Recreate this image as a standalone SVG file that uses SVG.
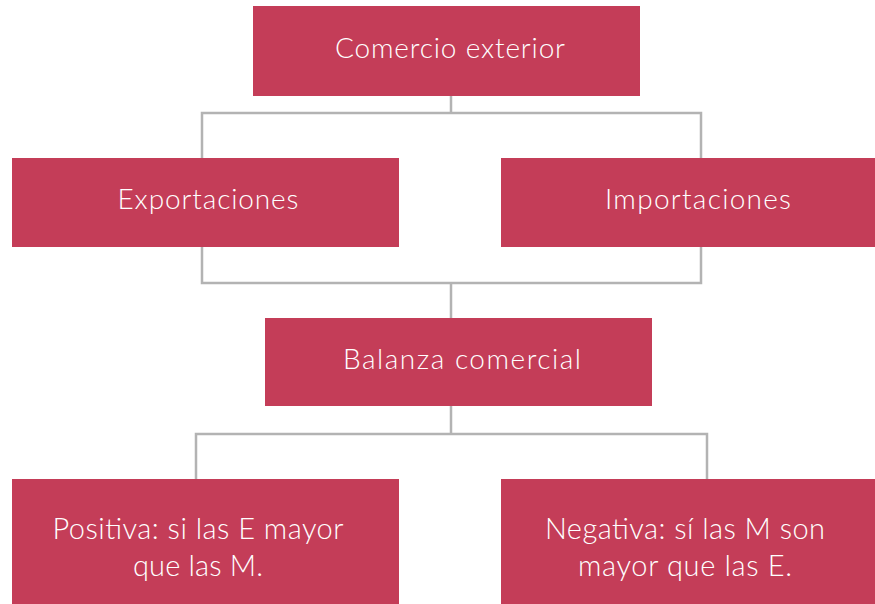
<svg xmlns="http://www.w3.org/2000/svg" width="875" height="604" viewBox="0 0 875 604">
<style>
.box{fill:#C43D58}
.t{fill:#ffffff;font-family:"Lato","Open Sans",sans-serif;font-weight:300;font-size:28px;text-anchor:middle}
.b{font-size:29px}
.c{fill:none;stroke:#b3b3b3;stroke-width:2.5}
</style>
<rect width="875" height="604" fill="#ffffff"/>
<g id="connectors">
<path class="c" d="M451 96V113M202 158V113H701V158"/>
<path class="c" d="M202 247V283H701V247M451 283V318"/>
<path class="c" d="M451 406V434M196 479V434H707V479"/>
</g>
<g id="n1"><rect class="box" x="253" y="6" width="387" height="90"/><text class="t" x="450" y="58" textLength="230">Comercio exterior</text></g>
<g id="n2"><rect class="box" x="12" y="158" width="387" height="89"/><text class="t" x="208" y="209" textLength="181">Exportaciones</text></g>
<g id="n3"><rect class="box" x="501" y="158" width="374" height="89"/><text class="t" x="698" y="209" textLength="186">Importaciones</text></g>
<g id="n4"><rect class="box" x="265" y="318" width="387" height="88"/><text class="t" x="462" y="369" textLength="238">Balanza comercial</text></g>
<g id="n5"><rect class="box" x="12" y="479" width="387" height="125"/><text class="t b" x="198" y="539" textLength="291">Positiva: si las E mayor</text><text class="t b" x="198" y="576" textLength="130">que las M.</text></g>
<g id="n6"><rect class="box" x="501" y="479" width="374" height="125"/><text class="t b" x="685" y="539" textLength="280">Negativa: sí las M son</text><text class="t b" x="685" y="576" textLength="214">mayor que las E.</text></g>
</svg>
